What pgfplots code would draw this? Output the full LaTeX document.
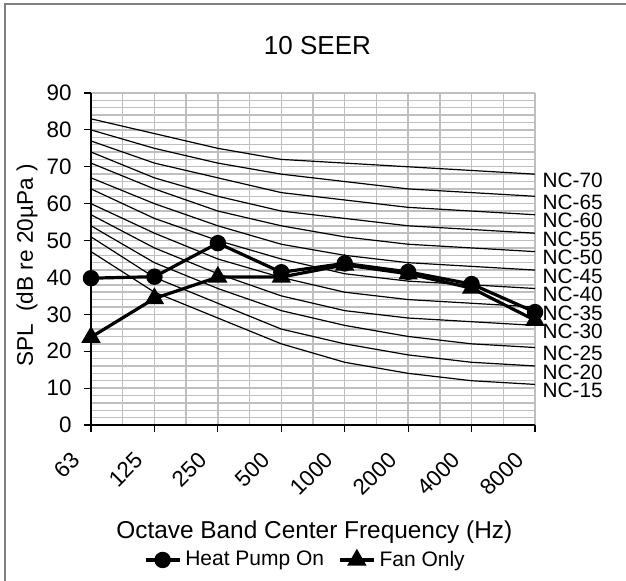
\documentclass[border=0pt]{standalone}
\usepackage{fontspec}
\setmainfont{Liberation Sans}
\usepackage{pgfplots}
\pgfplotsset{compat=1.18}
\usepackage{pgfplotstable}

% NC curves, octave bands 63..8000 Hz at x = 0..7
\pgfplotstableread{
x nc15 nc20 nc25 nc30 nc35 nc40 nc45 nc50 nc55 nc60 nc65 nc70
0 47 51 54 57 60 64 67 71 74 77 80 83
1 36 40 44 48 52 56 60 64 67 71 75 79
2 29 33 37 41 45 50 54 58 62 67 71 75
3 22 26 31 35 40 45 49 54 58 63 68 72
4 17 22 27 31 36 41 46 51 56 61 66 71
5 14 19 24 29 34 39 44 49 54 59 64 70
6 12 17 22 28 33 38 43 48 53 58 63 69
7 11 16 21 27 32 37 42 47 52 57 62 68
}\nctable

% measured SPL
\pgfplotstableread{
x hp fan
0 39.8 23.8
1 40.2 34.3
2 49.3 40.1
3 41.4 40.1
4 43.8 43.4
5 41.5 41.0
6 38.2 37.1
7 30.6 28.4
}\spltable

\newcommand\tickfont{\fontsize{11.2}{13}\selectfont}
\tikzset{
  nc/.style={black, line width=0.6pt},
  nclab/.style={pos=1, anchor=west, xshift=3.5pt, yshift=-3pt, inner sep=0pt, font=\fontsize{10.4}{12}\selectfont},
}

\begin{document}
\begin{tikzpicture}
\useasboundingbox (-45.5pt,-78pt) rectangle (267.5pt,212.5pt);
\begin{axis}[
  at={(0,0)}, anchor=south west,
  scale only axis, width=222pt, height=166pt,
  clip=false,
  xmin=0, xmax=7, ymin=0, ymax=90,
  xtick={0,...,7},
  xticklabels={63,125,250,500,1000,2000,4000,8000},
  ytick={0,10,...,90},
  minor x tick num=1, minor y tick num=4,
  grid=both,
  major grid style={black!25, line width=0.7pt},
  minor grid style={black!25, line width=0.7pt},
  axis x line*=bottom, axis y line*=left,
  axis line style={-, line width=0.6pt},
  tick align=outside, major tick length=3.5pt, minor tick length=0pt,
  tick style={black, line width=0.6pt},
  /pgf/number format/assume math mode=true,
  every tick label/.append style={font=\tickfont},
  xticklabel style={xshift=-10.5pt, yshift=-9pt, rotate=45, anchor=north east, inner sep=0pt},
  yticklabel style={inner sep=0pt, xshift=-6pt},
  title={\fontsize{13}{15}\selectfont 10 SEER},
  title style={at={(axis description cs:0.51,1.1145)}, anchor=base, yshift=-6pt},
  xlabel={\fontsize{12.2}{14}\selectfont Octave Band Center Frequency (Hz)},
  xlabel style={at={(axis description cs:0.503,-0.343)}, anchor=base},
  ylabel={\fontsize{11.3}{13}\selectfont SPL\ \ (dB re 20µPa )},
  ylabel style={at={(axis description cs:-0.144,0.48)}, anchor=center},
  legend columns=2,
  legend style={draw=none, fill=none, at={(axis description cs:0.485,-0.4066)}, anchor=center,
    font=\fontsize{10.5}{12}\selectfont, inner sep=0pt,
    /tikz/every even column/.append style={column sep=5pt}},
]
\addplot[nc, forget plot] table[x=x, y=nc15] {\nctable} node[nclab] {NC-15};
\addplot[nc, forget plot] table[x=x, y=nc20] {\nctable} node[nclab] {NC-20};
\addplot[nc, forget plot] table[x=x, y=nc25] {\nctable} node[nclab] {NC-25};
\addplot[nc, forget plot] table[x=x, y=nc30] {\nctable} node[nclab] {NC-30};
\addplot[nc, forget plot] table[x=x, y=nc35] {\nctable} node[nclab] {NC-35};
\addplot[nc, forget plot] table[x=x, y=nc40] {\nctable} node[nclab] {NC-40};
\addplot[nc, forget plot] table[x=x, y=nc45] {\nctable} node[nclab] {NC-45};
\addplot[nc, forget plot] table[x=x, y=nc50] {\nctable} node[nclab] {NC-50};
\addplot[nc, forget plot] table[x=x, y=nc55] {\nctable} node[nclab] {NC-55};
\addplot[nc, forget plot] table[x=x, y=nc60] {\nctable} node[nclab] {NC-60};
\addplot[nc, forget plot] table[x=x, y=nc65] {\nctable} node[nclab] {NC-65};
\addplot[nc, forget plot] table[x=x, y=nc70] {\nctable} node[nclab] {NC-70};

\addplot[black, line width=1.6pt, mark=*, mark size=3.3pt, mark options={solid}]
  table[x=x, y=hp] {\spltable};
\addlegendentry{Heat Pump On}
\addplot[black, line width=1.6pt, mark=triangle*, mark size=4pt, mark options={solid}]
  table[x=x, y=fan] {\spltable};
\addlegendentry{Fan Only}
\end{axis}
\draw[black!50, line width=1pt] (-43pt,-80pt) -- (-43pt,210.5pt) -- (270pt,210.5pt);
\end{tikzpicture}
\end{document}
